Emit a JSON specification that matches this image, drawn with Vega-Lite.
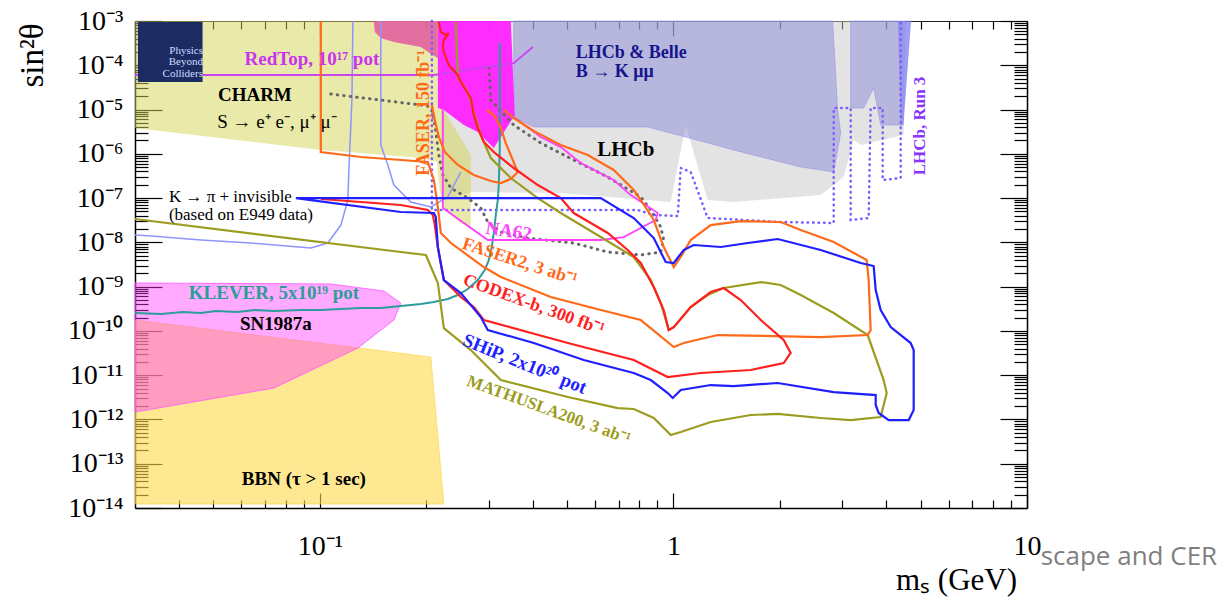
{
  "$schema": "https://vega.github.io/schema/vega-lite/v6.json",
  "width": 892,
  "height": 487,
  "autosize": {"type": "none"},
  "padding": {"left": 135, "top": 21, "right": 203, "bottom": 89},
  "background": "white",
  "config": {"view": {"stroke": null}, "font": "Liberation Serif"},
  "datasets": {
    "lhcb": [
      {"m": 0.2199, "s": 1e-3}, {"m": 4.538, "s": 1e-3}, {"m": 4.479, "s": 2.66e-6}, {"m": 3.385, "s": 1.58e-6},
      {"m": 3.234, "s": 2.05e-6}, {"m": 3.030, "s": 2.99e-7}, {"m": 2.609, "s": 1.17e-7}, {"m": 1.481, "s": 8.15e-8},
      {"m": 1.250, "s": 9.05e-8}, {"m": 1.083, "s": 4.47e-6}, {"m": 0.9826, "s": 8.15e-8}, {"m": 0.4801, "s": 1.30e-7},
      {"m": 0.2672, "s": 1.37e-7}, {"m": 0.2272, "s": 9.05e-8}, {"m": 0.2199, "s": 9.05e-8}
    ],
    "bkmm1": [
      {"m": 0.3535, "s": 1e-3}, {"m": 2.821, "s": 1e-3}, {"m": 2.914, "s": 9.76e-6}, {"m": 2.972, "s": 2.95e-6},
      {"m": 2.840, "s": 3.88e-7}, {"m": 2.291, "s": 5.04e-7}, {"m": 1.481, "s": 1.22e-6}, {"m": 1.083, "s": 2.40e-6},
      {"m": 0.8461, "s": 4.03e-6}, {"m": 0.4027, "s": 4.03e-6}, {"m": 0.3535, "s": 6.78e-6}
    ],
    "bkmm2": [
      {"m": 3.172, "s": 1e-3}, {"m": 4.688, "s": 1e-3}, {"m": 4.450, "s": 4.47e-6}, {"m": 3.856, "s": 4.47e-6},
      {"m": 3.684, "s": 3.07e-5}, {"m": 3.452, "s": 1.08e-5}, {"m": 3.172, "s": 1.08e-5}
    ],
    "run3fill": [
      {"m": 4.308, "s": 1e-3}, {"m": 4.688, "s": 1e-3}, {"m": 4.479, "s": 4.47e-6}, {"m": 4.393, "s": 4.47e-6}
    ],
    "charm": [
      {"m": 0.03, "s": 1e-3}, {"m": 0.2156, "s": 1e-3}, {"m": 0.2156, "s": 1.08e-5}, {"m": 0.2242, "s": 9.76e-6},
      {"m": 0.2672, "s": 9.40e-7}, {"m": 0.2672, "s": 2.11e-8}, {"m": 0.2472, "s": 2.88e-8}, {"m": 0.2242, "s": 5.97e-8},
      {"m": 0.2184, "s": 1.52e-7}, {"m": 0.2142, "s": 6.53e-7}, {"m": 0.1930, "s": 8.04e-7}, {"m": 0.1306, "s": 1.04e-6},
      {"m": 0.1006, "s": 1.22e-6}, {"m": 0.03, "s": 3.83e-6}
    ],
    "kpi": [
      {"m": 0.2156, "s": 1e-3}, {"m": 0.3467, "s": 1e-3}, {"m": 0.3558, "s": 7.53e-6}, {"m": 0.3104, "s": 1.35e-6},
      {"m": 0.2797, "s": 3.11e-6}, {"m": 0.2553, "s": 4.47e-6}, {"m": 0.2242, "s": 9.76e-6}, {"m": 0.2156, "s": 1.08e-5}
    ],
    "pink": [
      {"m": 0.1421, "s": 1e-3}, {"m": 0.2156, "s": 1e-3}, {"m": 0.2156, "s": 1.46e-4}, {"m": 0.2087, "s": 1.71e-4},
      {"m": 0.1930, "s": 2.59e-4}, {"m": 0.1619, "s": 3.35e-4}, {"m": 0.1487, "s": 4.13e-4}, {"m": 0.1430, "s": 5.64e-4}
    ],
    "bbn": [
      {"m": 0.03, "s": 1.76e-10}, {"m": 0.2060, "s": 2.57e-11}, {"m": 0.2242, "s": 1.23e-14}, {"m": 0.03, "s": 1.23e-14}
    ],
    "sn": [
      {"m": 0.03, "s": 1.21e-9}, {"m": 0.1074, "s": 1.15e-9}, {"m": 0.1517, "s": 7.96e-10}, {"m": 0.1694, "s": 4.26e-10},
      {"m": 0.1619, "s": 1.76e-10}, {"m": 0.1281, "s": 4.11e-11}, {"m": 0.0741, "s": 5.13e-12}, {"m": 0.03, "s": 1.47e-12}
    ],
    "faser2": [
      {"m": 0.1006, "s": 1e-3}, {"m": 0.1006, "s": 1.10e-6}, {"m": 0.1306, "s": 8.47e-7}, {"m": 0.2020, "s": 6.53e-7},
      {"m": 0.2101, "s": 2.56e-7}, {"m": 0.2156, "s": 6.29e-8}, {"m": 0.2199, "s": 1.63e-8}, {"m": 0.2347, "s": 9.66e-9},
      {"m": 0.2908, "s": 2.77e-9}, {"m": 0.3249, "s": 1.65e-9}, {"m": 0.4498, "s": 5.83e-10}, {"m": 0.6229, "s": 2.96e-10},
      {"m": 0.8083, "s": 1.76e-10}, {"m": 1.002, "s": 4.32e-11}, {"m": 1.069, "s": 5.32e-11}, {"m": 1.334, "s": 8.07e-11},
      {"m": 2.609, "s": 7.27e-11}, {"m": 3.543, "s": 8.07e-11}, {"m": 3.613, "s": 1.05e-10}, {"m": 3.566, "s": 1.41e-9},
      {"m": 3.520, "s": 3.99e-9}, {"m": 2.840, "s": 1.02e-8}, {"m": 2.291, "s": 1.90e-8}, {"m": 2.011, "s": 2.88e-8},
      {"m": 1.550, "s": 3.03e-8}, {"m": 1.275, "s": 2.46e-8}, {"m": 1.119, "s": 1.13e-8}, {"m": 1.049, "s": 4.67e-9},
      {"m": 1.002, "s": 2.77e-9}, {"m": 0.9388, "s": 7.85e-9}, {"m": 0.8797, "s": 3.20e-8}, {"m": 0.8083, "s": 9.05e-8},
      {"m": 0.7722, "s": 1.52e-7}, {"m": 0.6777, "s": 4.31e-7}, {"m": 0.5724, "s": 9.40e-7}, {"m": 0.4801, "s": 1.58e-6},
      {"m": 0.4027, "s": 3.27e-6}, {"m": 0.3535, "s": 6.44e-6}, {"m": 0.3313, "s": 9.76e-6}
    ],
    "faser": [
      {"m": 0.2074, "s": 1.27e-5}, {"m": 0.2114, "s": 5.80e-6}, {"m": 0.2170, "s": 2.40e-6}, {"m": 0.2256, "s": 1.10e-6},
      {"m": 0.2456, "s": 5.59e-7}, {"m": 0.2725, "s": 3.32e-7}, {"m": 0.3044, "s": 2.43e-7}, {"m": 0.3249, "s": 2.19e-7},
      {"m": 0.3467, "s": 2.70e-7}, {"m": 0.3628, "s": 3.88e-7}, {"m": 0.3512, "s": 7.25e-7}, {"m": 0.3356, "s": 1.75e-6},
      {"m": 0.3249, "s": 3.83e-6}, {"m": 0.3104, "s": 7.53e-6}, {"m": 0.2966, "s": 9.76e-6}
    ],
    "codexb": [
      {"m": 0.2170, "s": 9.49e-4}, {"m": 0.2199, "s": 5.64e-4}, {"m": 0.2272, "s": 4.83e-4}, {"m": 0.2316, "s": 5.36e-4},
      {"m": 0.2242, "s": 3.72e-4}, {"m": 0.2228, "s": 2.87e-4}, {"m": 0.2242, "s": 1.99e-4}, {"m": 0.2316, "s": 1.01e-4},
      {"m": 0.2456, "s": 6.03e-5}, {"m": 0.2504, "s": 4.19e-5}, {"m": 0.2672, "s": 1.82e-5}, {"m": 0.2725, "s": 7.53e-6},
      {"m": 0.2797, "s": 3.83e-6}, {"m": 0.2908, "s": 1.85e-6}, {"m": 0.3104, "s": 1.10e-6}, {"m": 0.3535, "s": 4.78e-7},
      {"m": 0.4133, "s": 1.97e-7}, {"m": 0.4801, "s": 1.00e-7}, {"m": 0.5225, "s": 4.60e-8}, {"m": 0.6519, "s": 1.63e-8},
      {"m": 0.7425, "s": 6.72e-9}, {"m": 0.8083, "s": 3.42e-9}, {"m": 0.8797, "s": 9.80e-10}, {"m": 0.9388, "s": 2.96e-10},
      {"m": 0.9698, "s": 1.05e-10}, {"m": 1.002, "s": 1.22e-10}, {"m": 1.119, "s": 3.46e-10}, {"m": 1.275, "s": 7.55e-10},
      {"m": 1.3875, "s": 9.30e-10}, {"m": 1.550, "s": 4.98e-10}, {"m": 1.766, "s": 1.76e-10}, {"m": 2.050, "s": 6.22e-11},
      {"m": 2.146, "s": 3.17e-11}, {"m": 2.050, "s": 1.88e-11}, {"m": 1.655, "s": 1.31e-11}, {"m": 1.195, "s": 1.12e-11},
      {"m": 0.9636, "s": 9.09e-12}, {"m": 0.7722, "s": 2.20e-11}, {"m": 0.5027, "s": 5.32e-11}, {"m": 0.2908, "s": 1.76e-10},
      {"m": 0.2725, "s": 3.46e-10}, {"m": 0.2504, "s": 5.83e-10}, {"m": 0.2242, "s": 1.41e-9}, {"m": 0.2156, "s": 7.85e-9},
      {"m": 0.2114, "s": 2.46e-8}, {"m": 0.2087, "s": 4.15e-8}, {"m": 0.2020, "s": 5.38e-8}, {"m": 0.1694, "s": 6.98e-8},
      {"m": 0.1006, "s": 9.53e-8}
    ],
    "ship": [
      {"m": 0.08552, "s": 1.00e-7}, {"m": 0.6229, "s": 1.00e-7}, {"m": 0.7722, "s": 3.55e-8}, {"m": 0.8797, "s": 1.25e-8},
      {"m": 0.9510, "s": 3.60e-9}, {"m": 1.002, "s": 3.42e-9}, {"m": 1.069, "s": 6.72e-9}, {"m": 1.141, "s": 8.71e-9},
      {"m": 1.361, "s": 7.85e-9}, {"m": 1.623, "s": 9.66e-9}, {"m": 1.972, "s": 1.19e-8}, {"m": 2.609, "s": 6.72e-9},
      {"m": 3.385, "s": 3.42e-9}, {"m": 3.684, "s": 2.92e-9}, {"m": 3.733, "s": 8.38e-10}, {"m": 3.856, "s": 2.96e-10},
      {"m": 4.116, "s": 1.22e-10}, {"m": 4.688, "s": 5.32e-11}, {"m": 4.781, "s": 3.70e-11}, {"m": 4.781, "s": 1.63e-12},
      {"m": 4.628, "s": 9.70e-13}, {"m": 4.063, "s": 9.70e-13}, {"m": 3.806, "s": 1.40e-12}, {"m": 3.733, "s": 2.12e-12},
      {"m": 3.733, "s": 3.56e-12}, {"m": 2.840, "s": 4.16e-12}, {"m": 1.972, "s": 6.65e-12}, {"m": 1.481, "s": 5.69e-12},
      {"m": 1.275, "s": 5.99e-12}, {"m": 1.049, "s": 4.62e-12}, {"m": 0.9954, "s": 3.05e-12}, {"m": 0.9636, "s": 3.95e-12},
      {"m": 0.8629, "s": 7.77e-12}, {"m": 0.7722, "s": 1.12e-11}, {"m": 0.5577, "s": 2.20e-11}, {"m": 0.4027, "s": 5.32e-11},
      {"m": 0.2985, "s": 1.05e-10}, {"m": 0.2852, "s": 2.06e-10}, {"m": 0.2504, "s": 7.17e-10}, {"m": 0.2242, "s": 1.41e-9},
      {"m": 0.2156, "s": 7.85e-9}, {"m": 0.2128, "s": 3.74e-8}, {"m": 0.2101, "s": 4.60e-8}, {"m": 0.1694, "s": 4.85e-8},
      {"m": 0.08552, "s": 1.00e-7}
    ],
    "mathusla": [
      {"m": 0.03, "s": 3.37e-8}, {"m": 0.1694, "s": 6.05e-9}, {"m": 0.1994, "s": 5.18e-9}, {"m": 0.2156, "s": 1.21e-9},
      {"m": 0.2242, "s": 1.16e-10}, {"m": 0.2672, "s": 3.70e-11}, {"m": 0.3249, "s": 7.77e-12}, {"m": 0.5027, "s": 3.21e-12},
      {"m": 0.6956, "s": 1.81e-12}, {"m": 0.7722, "s": 1.72e-12}, {"m": 0.8797, "s": 1.08e-12}, {"m": 0.9826, "s": 4.45e-13},
      {"m": 1.049, "s": 5.20e-13}, {"m": 1.275, "s": 8.75e-13}, {"m": 1.655, "s": 1.26e-12}, {"m": 1.972, "s": 1.33e-12},
      {"m": 2.609, "s": 1.08e-12}, {"m": 3.172, "s": 9.70e-13}, {"m": 3.856, "s": 1.13e-12}, {"m": 4.010, "s": 3.95e-12},
      {"m": 3.932, "s": 7.77e-12}, {"m": 3.543, "s": 8.07e-11}, {"m": 2.840, "s": 2.54e-10}, {"m": 2.291, "s": 6.46e-10},
      {"m": 2.011, "s": 1.09e-9}, {"m": 1.766, "s": 1.27e-9}, {"m": 1.3875, "s": 9.30e-10}, {"m": 1.250, "s": 6.46e-10},
      {"m": 1.119, "s": 3.46e-10}, {"m": 1.002, "s": 1.22e-10}, {"m": 0.9698, "s": 1.05e-10}, {"m": 0.9206, "s": 4.26e-10},
      {"m": 0.8629, "s": 1.41e-9}, {"m": 0.7722, "s": 4.67e-9}, {"m": 0.6229, "s": 1.32e-8}, {"m": 0.4801, "s": 4.60e-8},
      {"m": 0.4133, "s": 1.00e-7}, {"m": 0.3467, "s": 2.84e-7}, {"m": 0.3044, "s": 8.04e-7}, {"m": 0.2852, "s": 2.66e-6},
      {"m": 0.2725, "s": 8.80e-6}, {"m": 0.2620, "s": 2.49e-5}, {"m": 0.2456, "s": 5.16e-5}, {"m": 0.2424, "s": 9.49e-4}
    ],
    "na62": [
      {"m": 0.3535, "s": 6.78e-6}, {"m": 0.4214, "s": 2.40e-6}, {"m": 0.4801, "s": 1.42e-6}, {"m": 0.5468, "s": 6.20e-7},
      {"m": 0.6777, "s": 2.56e-7}, {"m": 0.7572, "s": 1.17e-7}, {"m": 0.9028, "s": 4.60e-8}, {"m": 0.8910, "s": 3.20e-8},
      {"m": 0.8083, "s": 2.11e-8}, {"m": 0.7234, "s": 1.32e-8}, {"m": 0.6229, "s": 1.13e-8}, {"m": 0.4214, "s": 1.13e-8},
      {"m": 0.2985, "s": 1.13e-8}, {"m": 0.2228, "s": 5.97e-8}, {"m": 0.2228, "s": 9.76e-6}
    ],
    "redtop": [
      {"m": 0.03, "s": 6.03e-5}, {"m": 0.2101, "s": 6.03e-5}, {"m": 0.3535, "s": 1.12e-4}, {"m": 0.4001, "s": 2.59e-4}
    ],
    "klever": [
      {"m": 0.03, "s": 2.54e-10}, {"m": 0.03551, "s": 2.41e-10}, {"m": 0.0410, "s": 2.67e-10}, {"m": 0.04609, "s": 2.54e-10},
      {"m": 0.05079, "s": 2.81e-10}, {"m": 0.05863, "s": 2.67e-10}, {"m": 0.06548, "s": 2.96e-10}, {"m": 0.07413, "s": 2.81e-10},
      {"m": 0.08836, "s": 2.96e-10}, {"m": 0.1006, "s": 2.96e-10}, {"m": 0.1147, "s": 3.12e-10}, {"m": 0.1306, "s": 3.29e-10},
      {"m": 0.1487, "s": 3.29e-10}, {"m": 0.1694, "s": 3.65e-10}, {"m": 0.1930, "s": 4.05e-10}, {"m": 0.2101, "s": 4.49e-10},
      {"m": 0.2301, "s": 5.25e-10}, {"m": 0.2456, "s": 6.46e-10}, {"m": 0.2620, "s": 8.83e-10}, {"m": 0.2797, "s": 1.41e-9},
      {"m": 0.2927, "s": 2.37e-9}, {"m": 0.3005, "s": 3.99e-9}, {"m": 0.3064, "s": 7.85e-9}, {"m": 0.3104, "s": 1.63e-8},
      {"m": 0.3145, "s": 4.15e-8}, {"m": 0.3186, "s": 9.05e-8}, {"m": 0.3206, "s": 1.97e-7}, {"m": 0.3227, "s": 1.22e-6},
      {"m": 0.3227, "s": 1.64e-5}, {"m": 0.3227, "s": 3.18e-4}
    ],
    "lb1": [
      {"m": 0.1240, "s": 1e-3}, {"m": 0.1232, "s": 1.64e-5}, {"m": 0.1208, "s": 4.31e-7}, {"m": 0.1200, "s": 9.05e-8},
      {"m": 0.1147, "s": 2.46e-8}, {"m": 0.1053, "s": 9.66e-9}, {"m": 0.0943, "s": 7.45e-9}, {"m": 0.06379, "s": 9.66e-9},
      {"m": 0.04609, "s": 1.13e-8}, {"m": 0.03329, "s": 1.39e-8}, {"m": 0.03, "s": 1.47e-8}
    ],
    "lb2": [
      {"m": 0.1487, "s": 1e-3}, {"m": 0.1487, "s": 1.58e-6}, {"m": 0.1557, "s": 5.59e-7}, {"m": 0.1619, "s": 1.97e-7},
      {"m": 0.1809, "s": 8.15e-8}, {"m": 0.2060, "s": 6.29e-8}, {"m": 0.2301, "s": 1.06e-7}, {"m": 0.2504, "s": 3.88e-7}
    ],
    "dotted": [
      {"m": 0.1074, "s": 2.24e-5}, {"m": 0.1930, "s": 1.27e-5}, {"m": 0.2020, "s": 1.20e-5}, {"m": 0.2087, "s": 8.80e-6},
      {"m": 0.2128, "s": 3.11e-6}, {"m": 0.2170, "s": 9.40e-7}, {"m": 0.2228, "s": 3.32e-7}, {"m": 0.2347, "s": 1.69e-7},
      {"m": 0.2620, "s": 1.00e-7}, {"m": 0.2852, "s": 5.97e-8}, {"m": 0.2985, "s": 2.88e-8}, {"m": 0.3249, "s": 1.71e-8},
      {"m": 0.3873, "s": 1.25e-8}, {"m": 0.5225, "s": 9.66e-9}, {"m": 0.6519, "s": 6.05e-9}, {"m": 0.8083, "s": 5.18e-9},
      {"m": 0.9206, "s": 6.05e-9}, {"m": 0.9388, "s": 1.13e-8}, {"m": 0.9206, "s": 2.22e-8}, {"m": 0.8629, "s": 5.38e-8},
      {"m": 0.8083, "s": 1.06e-7}, {"m": 0.6519, "s": 2.99e-7}, {"m": 0.5225, "s": 7.25e-7}, {"m": 0.4214, "s": 1.75e-6},
      {"m": 0.3535, "s": 4.47e-6}, {"m": 0.3044, "s": 1.64e-5}, {"m": 0.3005, "s": 1.12e-4}
    ],
    "run3": [
      {"m": 0.2074, "s": 1e-3}, {"m": 0.2074, "s": 5.38e-8}, {"m": 0.7926, "s": 5.38e-8}, {"m": 0.8797, "s": 4.15e-8},
      {"m": 1.0285, "s": 3.94e-8}, {"m": 1.0486, "s": 4.78e-7}, {"m": 1.119, "s": 3.88e-7}, {"m": 1.250, "s": 3.55e-8},
      {"m": 2.011, "s": 2.88e-8}, {"m": 2.840, "s": 2.74e-8}, {"m": 2.840, "s": 1.08e-5}, {"m": 3.172, "s": 1.08e-5},
      {"m": 3.172, "s": 3.20e-8}, {"m": 3.566, "s": 3.55e-8}, {"m": 3.613, "s": 1.08e-5}, {"m": 3.907, "s": 1.08e-5},
      {"m": 3.907, "s": 2.56e-7}, {"m": 4.393, "s": 2.84e-7}, {"m": 4.393, "s": 1e-3}
    ]
  },
  "encoding": {
    "x": {"field": "m", "type": "quantitative", "scale": {"type": "log", "domain": [0.03, 10], "nice": false}, "axis": null},
    "y": {"field": "s", "type": "quantitative", "scale": {"type": "log", "domain": [1e-14, 1e-3], "nice": false}, "axis": null}
  },
  "layer": [
    {
      "data": {"name": "lhcb"},
      "mark": {"type": "line", "interpolate": "linear-closed", "fill": "#c8c8c8", "fillOpacity": 0.5, "strokeWidth": 0},
      "encoding": {
        "order": {"value": null},
        "x": {
          "field": "m", "type": "quantitative", "scale": {"type": "log", "domain": [0.03, 10], "nice": false},
          "axis": {
            "orient": "bottom",
            "values": [0.04, 0.05, 0.06, 0.07, 0.08, 0.09, 0.1, 0.2, 0.3, 0.4, 0.5, 0.6, 0.7, 0.8, 0.9, 1, 2, 3, 4, 5, 6, 7, 8, 9, 10],
            "labelExpr": "datum.value == 0.1 ? '10⁻¹' : (datum.value == 1 ? '1' : (datum.value == 10 ? '10' : ''))",
            "tickSize": {"condition": {"test": "datum.value == 0.1 || datum.value == 1 || datum.value == 10", "value": -15}, "value": -8},
            "labelPadding": 39, "labelFont": "Liberation Serif", "labelFontSize": 28, "labelColor": "#000",
            "labelOverlap": false, "labelFlush": false, "labelBaseline": "top",
            "tickColor": "#000", "tickWidth": 1.2, "domainColor": "#000", "domainWidth": 1.5, "grid": false,
            "title": "mₛ (GeV)", "titleFont": "Liberation Serif", "titleFontSize": 31, "titleFontWeight": "normal",
            "titleColor": "#000", "titleX": 821, "titleY": 72, "titleAlign": "center", "titleBaseline": "middle"
          }
        },
        "y": {
          "field": "s", "type": "quantitative", "scale": {"type": "log", "domain": [1e-14, 1e-3], "nice": false},
          "axis": {
            "orient": "left",
            "values": [1e-14, 2e-14, 3e-14, 4e-14, 5e-14, 6e-14, 7e-14, 8e-14, 9e-14,
                       1e-13, 2e-13, 3e-13, 4e-13, 5e-13, 6e-13, 7e-13, 8e-13, 9e-13,
                       1e-12, 2e-12, 3e-12, 4e-12, 5e-12, 6e-12, 7e-12, 8e-12, 9e-12,
                       1e-11, 2e-11, 3e-11, 4e-11, 5e-11, 6e-11, 7e-11, 8e-11, 9e-11,
                       1e-10, 2e-10, 3e-10, 4e-10, 5e-10, 6e-10, 7e-10, 8e-10, 9e-10,
                       1e-9, 2e-9, 3e-9, 4e-9, 5e-9, 6e-9, 7e-9, 8e-9, 9e-9,
                       1e-8, 2e-8, 3e-8, 4e-8, 5e-8, 6e-8, 7e-8, 8e-8, 9e-8,
                       1e-7, 2e-7, 3e-7, 4e-7, 5e-7, 6e-7, 7e-7, 8e-7, 9e-7,
                       1e-6, 2e-6, 3e-6, 4e-6, 5e-6, 6e-6, 7e-6, 8e-6, 9e-6,
                       1e-5, 2e-5, 3e-5, 4e-5, 5e-5, 6e-5, 7e-5, 8e-5, 9e-5,
                       1e-4, 2e-4, 3e-4, 4e-4, 5e-4, 6e-4, 7e-4, 8e-4, 9e-4, 1e-3],
            "labelExpr": "abs(datum.value / pow(10, round(log(datum.value) / LN10)) - 1) < 0.01 ? '10' + ['⁻¹⁴','⁻¹³','⁻¹²','⁻¹¹','⁻¹⁰','⁻⁹','⁻⁸','⁻⁷','⁻⁶','⁻⁵','⁻⁴','⁻³'][round(log(datum.value) / LN10) + 14] : ''",
            "tickSize": {"condition": {"test": "abs(datum.value / pow(10, round(log(datum.value) / LN10)) - 1) < 0.01", "value": -27}, "value": -13},
            "labelPadding": 39, "labelFont": "Liberation Serif", "labelFontSize": 28, "labelColor": "#000",
            "labelOverlap": false, "labelFlush": false,
            "tickColor": "#000", "tickWidth": 1.2, "domainColor": "#000", "domainWidth": 1.5, "grid": false,
            "title": "sin²θ", "titleFont": "Liberation Serif", "titleFontSize": 33, "titleFontWeight": "normal",
            "titleColor": "#000", "titleAngle": 270, "titleX": -103, "titleY": 34, "titleAlign": "center", "titleBaseline": "middle"
          }
        }
      }
    },
    {"data": {"name": "bkmm1"}, "mark": {"type": "line", "interpolate": "linear-closed", "fill": "#8c8cd8", "fillOpacity": 0.5, "stroke": "#8c8cf0", "strokeWidth": 1, "strokeOpacity": 0.5}, "encoding": {"order": {"value": null}}},
    {"data": {"name": "bkmm2"}, "mark": {"type": "line", "interpolate": "linear-closed", "fill": "#8c8cd8", "fillOpacity": 0.5, "stroke": "#8c8cf0", "strokeWidth": 1, "strokeOpacity": 0.5}, "encoding": {"order": {"value": null}}},
    {"data": {"name": "run3fill"}, "mark": {"type": "line", "interpolate": "linear-closed", "fill": "#7070ff", "fillOpacity": 0.45, "strokeWidth": 0}, "encoding": {"order": {"value": null}}},
    {"data": {"name": "charm"}, "mark": {"type": "line", "interpolate": "linear-closed", "fill": "#d4d455", "fillOpacity": 0.5, "strokeWidth": 0}, "encoding": {"order": {"value": null}}},
    {"data": {"name": "kpi"}, "mark": {"type": "line", "interpolate": "linear-closed", "fill": "#ff22ff", "fillOpacity": 0.95, "strokeWidth": 0}, "encoding": {"order": {"value": null}}},
    {"data": {"name": "pink"}, "mark": {"type": "line", "interpolate": "linear-closed", "fill": "#e2609f", "fillOpacity": 0.9, "strokeWidth": 0}, "encoding": {"order": {"value": null}}},
    {"data": {"name": "bbn"}, "mark": {"type": "line", "interpolate": "linear-closed", "fill": "#ffd84a", "fillOpacity": 0.6, "stroke": "#ffd040", "strokeWidth": 1, "strokeOpacity": 0.6}, "encoding": {"order": {"value": null}}},
    {"data": {"name": "sn"}, "mark": {"type": "line", "interpolate": "linear-closed", "fill": "#ff33ff", "fillOpacity": 0.42, "stroke": "#ff55ff", "strokeWidth": 1, "strokeOpacity": 0.8}, "encoding": {"order": {"value": null}}},
    {"data": {"name": "lb1"}, "mark": {"type": "line", "stroke": "#8f94ff", "strokeWidth": 1.5}, "encoding": {"order": {"value": null}}},
    {"data": {"name": "lb2"}, "mark": {"type": "line", "stroke": "#8f94ff", "strokeWidth": 1.5}, "encoding": {"order": {"value": null}}},
    {"data": {"name": "dotted"}, "mark": {"type": "line", "stroke": "#666666", "strokeWidth": 3, "strokeDash": [0.5, 6], "strokeCap": "round"}, "encoding": {"order": {"value": null}}},
    {"data": {"name": "run3"}, "mark": {"type": "line", "stroke": "#7a5cff", "strokeWidth": 2.5, "strokeDash": [0.5, 5], "strokeCap": "round"}, "encoding": {"order": {"value": null}}},
    {"data": {"name": "redtop"}, "mark": {"type": "line", "stroke": "#cc44ee", "strokeWidth": 1.8}, "encoding": {"order": {"value": null}}},
    {"data": {"name": "klever"}, "mark": {"type": "line", "stroke": "#2e9c98", "strokeWidth": 2}, "encoding": {"order": {"value": null}}},
    {"data": {"name": "na62"}, "mark": {"type": "line", "stroke": "#ff40ff", "strokeWidth": 1.8}, "encoding": {"order": {"value": null}}},
    {"data": {"name": "mathusla"}, "mark": {"type": "line", "stroke": "#9c9c20", "strokeWidth": 2.2}, "encoding": {"order": {"value": null}}},
    {"data": {"name": "faser"}, "mark": {"type": "line", "stroke": "#ff6a1a", "strokeWidth": 2.2}, "encoding": {"order": {"value": null}}},
    {"data": {"name": "faser2"}, "mark": {"type": "line", "stroke": "#ff6a1a", "strokeWidth": 2.2}, "encoding": {"order": {"value": null}}},
    {"data": {"name": "codexb"}, "mark": {"type": "line", "stroke": "#ff1f1f", "strokeWidth": 2.2}, "encoding": {"order": {"value": null}}},
    {"data": {"name": "ship"}, "mark": {"type": "line", "stroke": "#1f1fff", "strokeWidth": 2.2}, "encoding": {"order": {"value": null}}},
    {
      "data": {"values": [{"m": 0.03058, "m2": 0.04658, "s": 4.19e-5, "s2": 9.49e-4}]},
      "mark": {"type": "rect", "color": "#1c2c63"},
      "encoding": {
        "x": {
          "field": "m", "type": "quantitative", "scale": {"type": "log", "domain": [0.03, 10], "nice": false},
          "axis": {
            "orient": "top", "labels": false, "title": null, "grid": false,
            "values": [0.04, 0.05, 0.06, 0.07, 0.08, 0.09, 0.1, 0.2, 0.3, 0.4, 0.5, 0.6, 0.7, 0.8, 0.9, 1, 2, 3, 4, 5, 6, 7, 8, 9, 10],
            "tickSize": {"condition": {"test": "datum.value == 0.1 || datum.value == 1 || datum.value == 10", "value": -15}, "value": -8},
            "tickColor": "#000", "tickWidth": 1.2, "domainColor": "#222", "domainWidth": 1.2
          }
        },
        "x2": {"field": "m2"},
        "y": {
          "field": "s", "type": "quantitative", "scale": {"type": "log", "domain": [1e-14, 1e-3], "nice": false},
          "axis": {
            "orient": "right", "labels": false, "title": null, "grid": false,
            "values": [1e-14, 2e-14, 3e-14, 4e-14, 5e-14, 6e-14, 7e-14, 8e-14, 9e-14,
                       1e-13, 2e-13, 3e-13, 4e-13, 5e-13, 6e-13, 7e-13, 8e-13, 9e-13,
                       1e-12, 2e-12, 3e-12, 4e-12, 5e-12, 6e-12, 7e-12, 8e-12, 9e-12,
                       1e-11, 2e-11, 3e-11, 4e-11, 5e-11, 6e-11, 7e-11, 8e-11, 9e-11,
                       1e-10, 2e-10, 3e-10, 4e-10, 5e-10, 6e-10, 7e-10, 8e-10, 9e-10,
                       1e-9, 2e-9, 3e-9, 4e-9, 5e-9, 6e-9, 7e-9, 8e-9, 9e-9,
                       1e-8, 2e-8, 3e-8, 4e-8, 5e-8, 6e-8, 7e-8, 8e-8, 9e-8,
                       1e-7, 2e-7, 3e-7, 4e-7, 5e-7, 6e-7, 7e-7, 8e-7, 9e-7,
                       1e-6, 2e-6, 3e-6, 4e-6, 5e-6, 6e-6, 7e-6, 8e-6, 9e-6,
                       1e-5, 2e-5, 3e-5, 4e-5, 5e-5, 6e-5, 7e-5, 8e-5, 9e-5,
                       1e-4, 2e-4, 3e-4, 4e-4, 5e-4, 6e-4, 7e-4, 8e-4, 9e-4, 1e-3],
            "tickSize": {"condition": {"test": "abs(datum.value / pow(10, round(log(datum.value) / LN10)) - 1) < 0.01", "value": -27}, "value": -13},
            "tickColor": "#000", "tickWidth": 1.2, "domainColor": "#000", "domainWidth": 1.5
          }
        },
        "y2": {"field": "s2"}
      }
    },
    {
      "data": {"values": [{"t": "Physics", "m": 0.0467, "s": 2.05e-4}, {"t": "Beyond", "m": 0.0467, "s": 1.19e-4}, {"t": "Colliders", "m": 0.0467, "s": 6.5e-5}]},
      "mark": {"type": "text", "align": "right", "baseline": "middle", "font": "Liberation Serif", "fontSize": 11, "color": "#d0dcff"},
      "encoding": {"text": {"field": "t"}}
    },
    {
      "data": {"values": [{"t": "RedTop, 10¹⁷ pot", "m": 0.09492, "s": 1.39e-4}]},
      "mark": {"type": "text", "align": "center", "baseline": "middle", "font": "Liberation Serif", "fontWeight": "bold", "fontSize": 19, "color": "#cc33ee"},
      "encoding": {"text": {"field": "t"}}
    },
    {
      "data": {"values": [{"t": "CHARM", "m": 0.06548, "s": 2.13e-5}]},
      "mark": {"type": "text", "align": "center", "baseline": "middle", "font": "Liberation Serif", "fontWeight": "bold", "fontSize": 19, "color": "#000"},
      "encoding": {"text": {"field": "t"}}
    },
    {
      "data": {"values": [{"t": "S → e⁺ e⁻, μ⁺ μ⁻", "m": 0.0756, "s": 5.23e-6}]},
      "mark": {"type": "text", "align": "center", "baseline": "middle", "font": "Liberation Serif", "fontSize": 19, "color": "#000"},
      "encoding": {"text": {"field": "t"}}
    },
    {
      "data": {"values": [{"t": "FASER, 150 fb⁻¹", "m": 0.1968, "s": 8.35e-6}]},
      "mark": {"type": "text", "align": "center", "baseline": "middle", "angle": 270, "font": "Liberation Serif", "fontWeight": "bold", "fontSize": 18, "color": "#ff6a1a"},
      "encoding": {"text": {"field": "t"}}
    },
    {
      "data": {"values": [{"t": "LHCb & Belle", "m": 0.5294, "s": 1.89e-4}, {"t": "B → K μμ", "m": 0.5294, "s": 7.05e-5}]},
      "mark": {"type": "text", "align": "left", "baseline": "middle", "font": "Liberation Serif", "fontWeight": "bold", "fontSize": 18, "color": "#14148c"},
      "encoding": {"text": {"field": "t"}}
    },
    {
      "data": {"values": [{"t": "LHCb", "m": 0.7329, "s": 1.22e-6}]},
      "mark": {"type": "text", "align": "center", "baseline": "middle", "font": "Liberation Serif", "fontWeight": "bold", "fontSize": 21, "color": "#000"},
      "encoding": {"text": {"field": "t"}}
    },
    {
      "data": {"values": [{"t": "LHCb, Run 3", "m": 4.971, "s": 4.25e-6}]},
      "mark": {"type": "text", "align": "center", "baseline": "middle", "angle": 270, "font": "Liberation Serif", "fontWeight": "bold", "fontSize": 17, "color": "#8833ff"},
      "encoding": {"text": {"field": "t"}}
    },
    {
      "data": {"values": [{"t": "K → π + invisible", "m": 0.03741, "s": 1.06e-7}, {"t": "(based on E949 data)", "m": 0.03741, "s": 4.15e-8}]},
      "mark": {"type": "text", "align": "left", "baseline": "middle", "font": "Liberation Serif", "fontSize": 17, "color": "#000"},
      "encoding": {"text": {"field": "t"}}
    },
    {
      "data": {"values": [{"t": "NA62", "m": 0.3422, "s": 1.80e-8}]},
      "mark": {"type": "text", "align": "center", "baseline": "middle", "angle": 8, "font": "Liberation Serif", "fontWeight": "bold", "fontSize": 19, "color": "#ff44ff"},
      "encoding": {"text": {"field": "t"}}
    },
    {
      "data": {"values": [{"t": "FASER2, 3 ab⁻¹", "m": 0.3676, "s": 3.60e-9}]},
      "mark": {"type": "text", "align": "center", "baseline": "middle", "angle": 18, "font": "Liberation Serif", "fontWeight": "bold", "fontSize": 18, "color": "#ff6a1a"},
      "encoding": {"text": {"field": "t"}}
    },
    {
      "data": {"values": [{"t": "CODEX-b, 300 fb⁻¹", "m": 0.4027, "s": 3.84e-10}]},
      "mark": {"type": "text", "align": "center", "baseline": "middle", "angle": 20, "font": "Liberation Serif", "fontWeight": "bold", "fontSize": 18, "color": "#ff1f1f"},
      "encoding": {"text": {"field": "t"}}
    },
    {
      "data": {"values": [{"t": "SHiP, 2x10²⁰ pot", "m": 0.3798, "s": 1.79e-11}]},
      "mark": {"type": "text", "align": "center", "baseline": "middle", "angle": 22, "font": "Liberation Serif", "fontWeight": "bold", "fontSize": 19, "color": "#1f1fff"},
      "encoding": {"text": {"field": "t"}}
    },
    {
      "data": {"values": [{"t": "MATHUSLA200, 3 ab⁻¹", "m": 0.444, "s": 1.63e-12}]},
      "mark": {"type": "text", "align": "center", "baseline": "middle", "angle": 20, "font": "Liberation Serif", "fontWeight": "bold", "fontSize": 17, "color": "#9c9c20"},
      "encoding": {"text": {"field": "t"}}
    },
    {
      "data": {"values": [{"t": "KLEVER, 5x10¹⁹ pot", "m": 0.07413, "s": 7.3e-10}]},
      "mark": {"type": "text", "align": "center", "baseline": "middle", "font": "Liberation Serif", "fontWeight": "bold", "fontSize": 19, "color": "#2e9c98"},
      "encoding": {"text": {"field": "t"}}
    },
    {
      "data": {"values": [{"t": "SN1987a", "m": 0.0751, "s": 1.43e-10}, {"t": "BBN (τ > 1 sec)", "m": 0.0901, "s": 4.51e-14}]},
      "mark": {"type": "text", "align": "center", "baseline": "middle", "font": "Liberation Serif", "fontWeight": "bold", "fontSize": 19, "color": "#000"},
      "encoding": {"text": {"field": "t"}}
    },
    {
      "data": {"values": [{"t": "scape and CER", "m": 10.93, "s": 5.15e-16}]},
      "mark": {"type": "text", "align": "left", "baseline": "alphabetic", "font": "Open Sans", "fontSize": 26, "color": "#7f7f7f"},
      "encoding": {"text": {"field": "t"}}
    }
  ],
  "resolve": {"axis": {"x": "independent", "y": "independent"}}
}
